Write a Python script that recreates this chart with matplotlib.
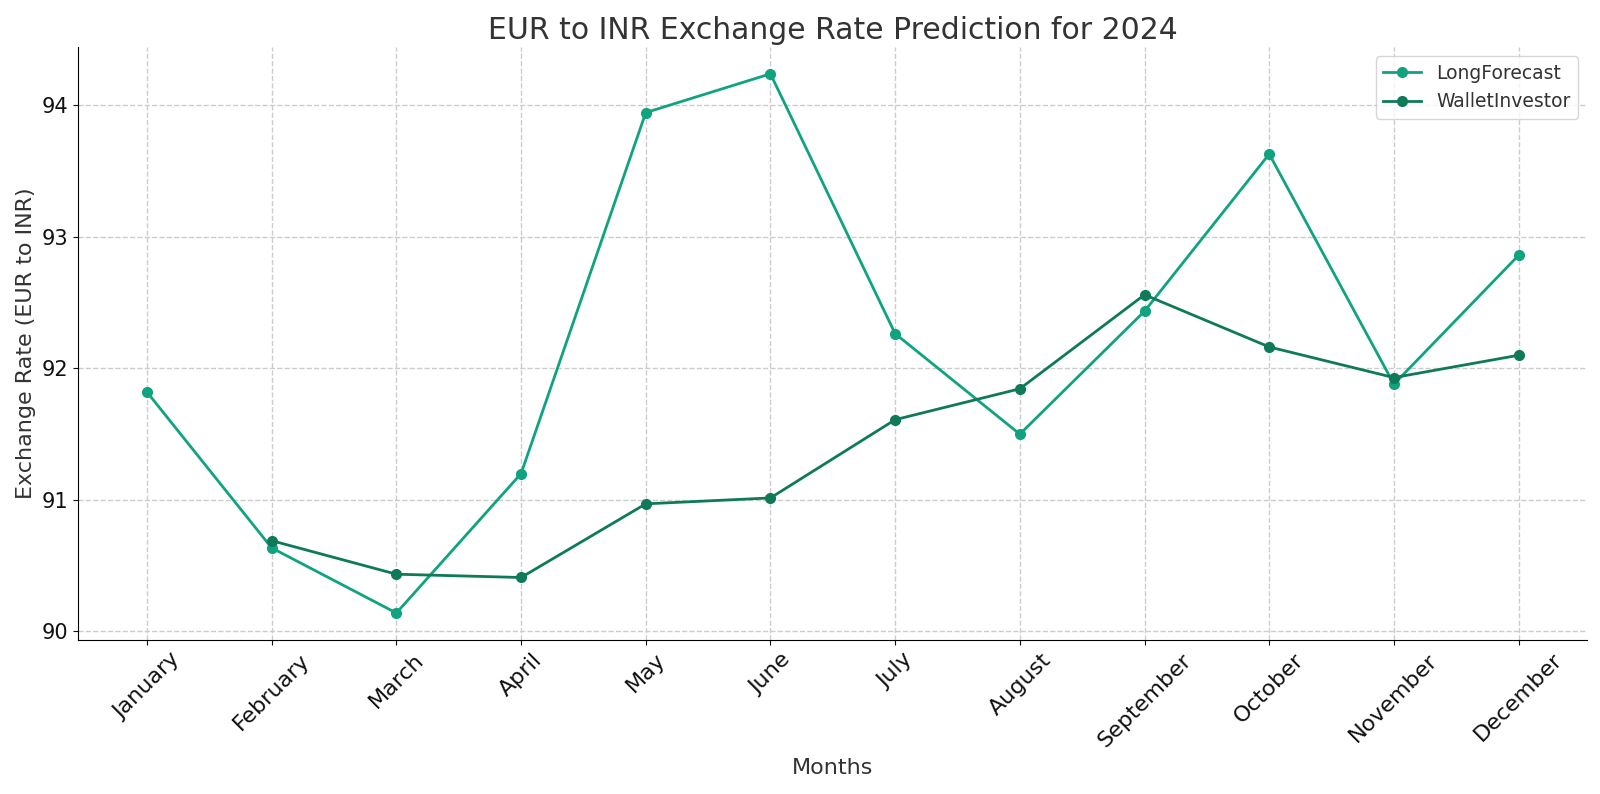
import matplotlib
matplotlib.use("Agg")
import matplotlib.pyplot as plt
import numpy as np

months = ["January", "February", "March", "April", "May", "June",
          "July", "August", "September", "October", "November", "December"]

long_forecast = [91.82, 90.635, 90.14, 91.20, 93.945, 94.24,
                 92.264, 91.50, 92.435, 93.63, 91.88, 92.86]

# WalletInvestor has no value for January
wallet_months = months[1:]
wallet_investor = [90.69, 90.435, 90.41, 90.97, 91.015,
                   91.61, 91.845, 92.56, 92.163, 91.93, 92.10]

fig, ax = plt.subplots(figsize=(16, 7.94), dpi=100)

x_all = np.arange(len(months))
x_wallet = x_all[1:]

ax.plot(x_all, long_forecast, marker="o", color="#10a37f", linewidth=2,
        markersize=7, label="LongForecast")
ax.plot(x_wallet, wallet_investor, marker="o", color="#0e7a5a", linewidth=2,
        markersize=7, label="WalletInvestor")

ax.set_title("EUR to INR Exchange Rate Prediction for 2024", fontsize=21.5, color="#333333")
ax.set_xlabel("Months", fontsize=16, color="#333333", labelpad=5)
ax.set_ylabel("Exchange Rate (EUR to INR)", fontsize=16, color="#333333")

ax.set_xticks(x_all)
ax.set_xticklabels(months, rotation=45, fontsize=16)
ax.tick_params(axis="y", labelsize=15)
ax.tick_params(colors="#111111")

ax.grid(True, linestyle="--", color="#cccccc", linewidth=1)
ax.spines["top"].set_visible(False)
ax.spines["right"].set_visible(False)

leg = ax.legend(fontsize=13.5, loc="upper right")
for t in leg.get_texts():
    t.set_color("#333333")

plt.subplots_adjust(left=0.049, right=0.992, bottom=0.194, top=0.941)
plt.savefig("out.png")
